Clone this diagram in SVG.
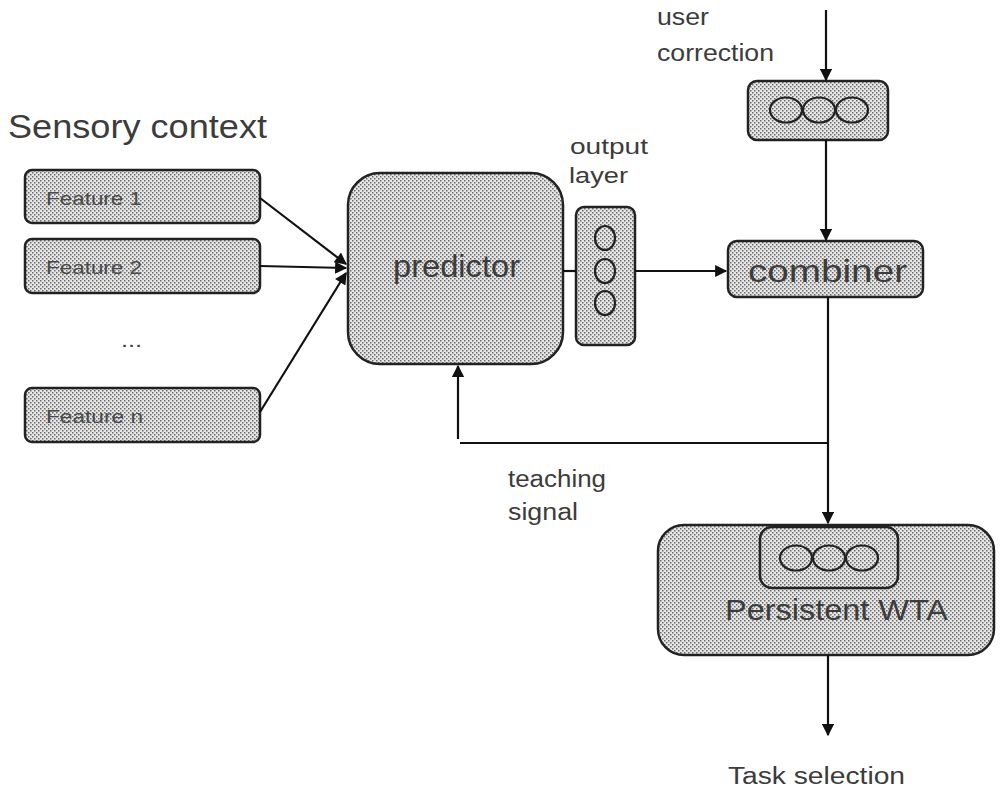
<svg xmlns="http://www.w3.org/2000/svg" width="1008" height="794" viewBox="0 0 1008 794">
<defs>
<pattern id="dots" width="4" height="4" patternUnits="userSpaceOnUse">
<rect width="4" height="4" fill="#e6e6e6"/>
<rect x="0" y="0" width="1.5" height="1.5" fill="#6a6a6a"/>
<rect x="2" y="2" width="1.5" height="1.5" fill="#6a6a6a"/>
</pattern>
<marker id="ah" viewBox="0 0 10 10" refX="9" refY="5" markerWidth="6.5" markerHeight="5.5" orient="auto" markerUnits="strokeWidth">
<path d="M0,0 L10,5 L0,10 z" fill="#111"/>
</marker>
<style>
.box{fill:url(#dots);stroke:#222;stroke-width:2.5}
.circ{fill:none;stroke:#222;stroke-width:2.2}
.line{fill:none;stroke:#111;stroke-width:2.2}
.arr{fill:none;stroke:#111;stroke-width:2.2;marker-end:url(#ah)}
.lbl{font-family:"Liberation Sans",Arial,sans-serif;fill:#3c3c3c}
.feat{font-family:"Liberation Sans",Arial,sans-serif;fill:#4a4a4a;font-size:19px}
</style>
</defs>
<rect width="1008" height="794" fill="#fff"/>
<text class="lbl" x="8" y="138" font-size="34" textLength="259" lengthAdjust="spacingAndGlyphs">Sensory context</text>
<g id="feature1"><rect class="box" x="25" y="170" width="235" height="53" rx="7"/><text class="feat" x="46" y="205" textLength="96" lengthAdjust="spacingAndGlyphs">Feature 1</text></g>
<g id="feature2"><rect class="box" x="25" y="239" width="235" height="54" rx="7"/><text class="feat" x="46" y="274" textLength="96" lengthAdjust="spacingAndGlyphs">Feature 2</text></g>
<text class="lbl" x="121" y="347" font-size="20" textLength="21" lengthAdjust="spacingAndGlyphs">...</text>
<g id="featuren"><rect class="box" x="25" y="388" width="235" height="54" rx="7"/><text class="feat" x="46" y="423" textLength="97" lengthAdjust="spacingAndGlyphs">Feature n</text></g>
<g id="predictor"><rect class="box" x="348" y="173" width="215" height="191" rx="32"/><text class="lbl" x="393" y="277" font-size="32" textLength="127" lengthAdjust="spacingAndGlyphs">predictor</text></g>
<text class="lbl" x="570" y="154" font-size="22" textLength="78" lengthAdjust="spacingAndGlyphs">output</text>
<text class="lbl" x="569" y="183" font-size="22" textLength="59" lengthAdjust="spacingAndGlyphs">layer</text>
<g id="output-layer"><rect class="box" x="576" y="207" width="59" height="138" rx="8"/>
<ellipse class="circ" cx="605" cy="238" rx="10" ry="12"/><ellipse class="circ" cx="605" cy="271" rx="10" ry="12"/><ellipse class="circ" cx="605" cy="303" rx="10" ry="12"/></g>
<text class="lbl" x="657" y="25" font-size="23" textLength="52" lengthAdjust="spacingAndGlyphs">user</text>
<text class="lbl" x="657" y="61" font-size="23" textLength="117" lengthAdjust="spacingAndGlyphs">correction</text>
<g id="user-correction"><rect class="box" x="748" y="81" width="140" height="59" rx="9"/>
<ellipse class="circ" cx="786" cy="110" rx="16" ry="12.5"/><ellipse class="circ" cx="819" cy="110" rx="16" ry="12.5"/><ellipse class="circ" cx="852" cy="110" rx="16" ry="12.5"/></g>
<g id="combiner"><rect class="box" x="728" y="241" width="195" height="56" rx="9"/><text class="lbl" x="748" y="282" font-size="32" textLength="159" lengthAdjust="spacingAndGlyphs">combiner</text></g>
<g id="wta"><rect class="box" x="658" y="525" width="336" height="130" rx="26"/>
<rect class="box" x="760" y="527" width="138" height="61" rx="12"/>
<ellipse class="circ" cx="796" cy="558" rx="16" ry="12.5"/><ellipse class="circ" cx="829" cy="558" rx="16" ry="12.5"/><ellipse class="circ" cx="862" cy="558" rx="16" ry="12.5"/>
<text class="lbl" x="725" y="620" font-size="30" textLength="223" lengthAdjust="spacingAndGlyphs">Persistent WTA</text></g>
<text class="lbl" x="508" y="487" font-size="23" textLength="98" lengthAdjust="spacingAndGlyphs">teaching</text>
<text class="lbl" x="508" y="520" font-size="23" textLength="70" lengthAdjust="spacingAndGlyphs">signal</text>
<text class="lbl" x="728" y="784" font-size="23" textLength="177" lengthAdjust="spacingAndGlyphs">Task selection</text>
<g id="connectors">
<line class="arr" x1="260" y1="198" x2="346" y2="264"/>
<line class="arr" x1="260" y1="266" x2="346" y2="268"/>
<line class="arr" x1="260" y1="412" x2="346" y2="273"/>
<line class="line" x1="563" y1="271" x2="576" y2="271"/>
<line class="arr" x1="635" y1="271" x2="726" y2="271"/>
<line class="arr" x1="826" y1="10" x2="826" y2="80"/>
<line class="arr" x1="826" y1="140" x2="826" y2="240"/>
<line class="arr" x1="828" y1="297" x2="828" y2="523"/>
<line class="line" x1="460" y1="443" x2="829" y2="443"/>
<line class="arr" x1="458" y1="439" x2="458" y2="366"/>
<line class="arr" x1="828" y1="655" x2="828" y2="735"/>
</g>
</svg>
